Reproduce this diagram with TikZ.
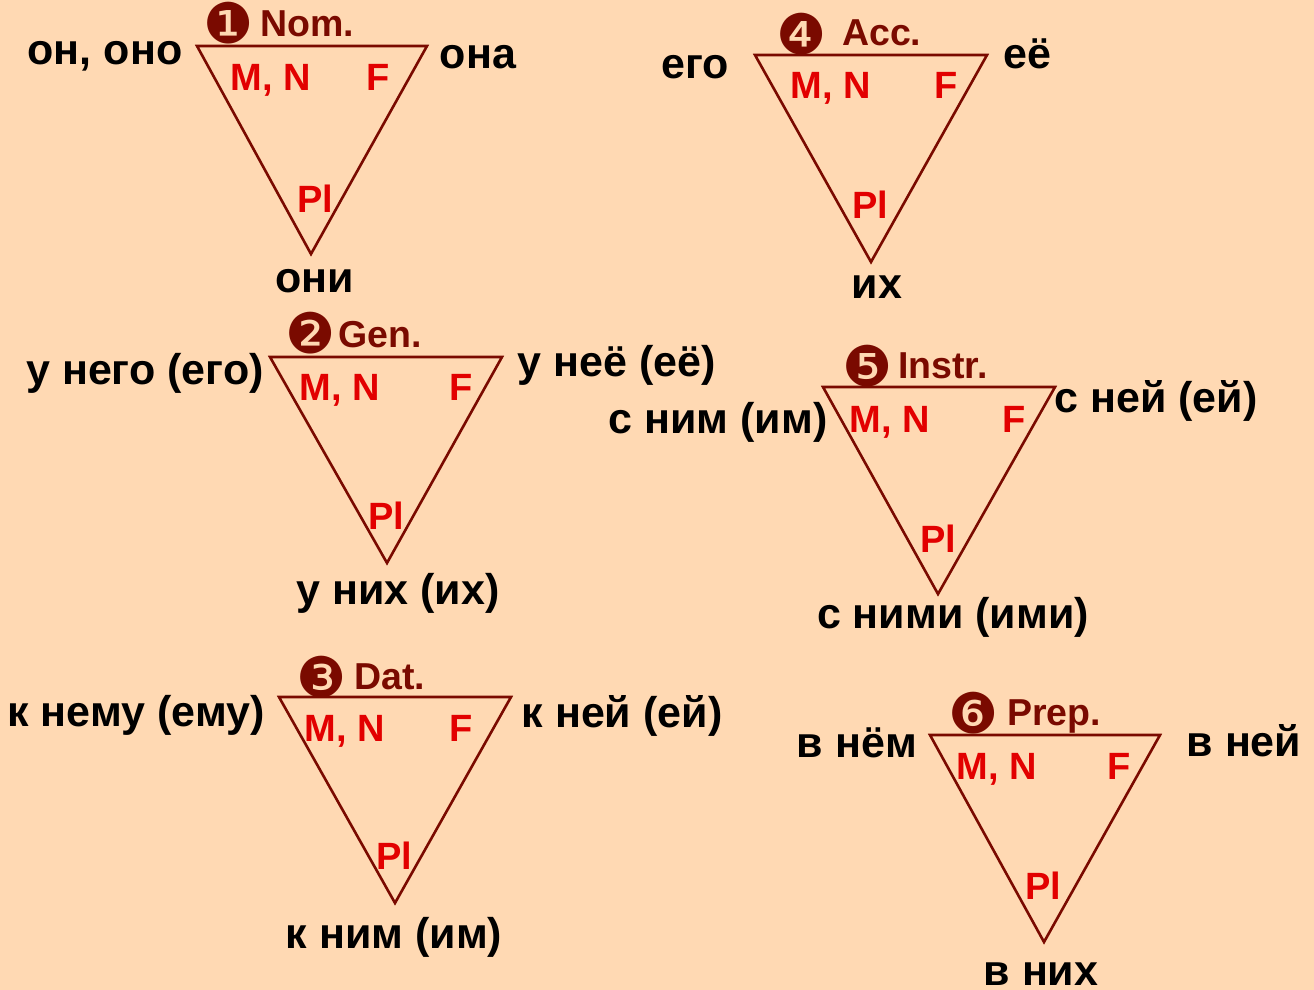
\documentclass[tikz,border=0pt]{standalone}
\usepackage{fontspec}
\setmainfont{Liberation Sans}
\newfontfamily\dingfont{DejaVu Sans}
\definecolor{bgpeach}{RGB}{255,217,179}
\definecolor{darkred}{RGB}{122,10,0}
\definecolor{labred}{RGB}{226,0,0}
\begin{document}
\begin{tikzpicture}[x=1pt,y=-1pt,
  blk/.style={font=\fontsize{43}{50}\selectfont\bfseries, text=black, inner sep=0pt, anchor=base},
  lbl/.style={font=\fontsize{38}{44}\selectfont\bfseries, text=labred, inner sep=0pt, anchor=base},
  ttl/.style={font=\fontsize{37.5}{44}\selectfont\bfseries, text=darkred, inner sep=0pt, anchor=base west},
  num/.style={font=\dingfont\fontsize{56}{60}\selectfont, text=darkred, inner sep=0pt, anchor=center},
  tri/.style={draw=darkred, line width=2.6pt, line join=miter}]
\fill[bgpeach] (0,0) rectangle (1314,990);
\useasboundingbox (0,0) rectangle (1314,990);
\newcommand{\MN}{{\color{labred}M}, {\color{labred}N}}
% 1 Nom
\draw[tri] (197,46) -- (427,46) -- (311,254) -- cycle;
\node[num] (n1) at (229,23) {❶};
\node[ttl] (t1) at (260,37) {Nom.};
\node[lbl] (mn1) at (271,90) {\MN};
\node[lbl] (f1) at (378,90) {F};
\node[lbl] (p1) at (315,212) {Pl};
\node[blk] (a1) at (105,65) {он, оно};
\node[blk] (b1) at (478,69) {она};
\node[blk] (c1) at (315,292) {они};
% 2 Gen
\draw[tri] (270,357) -- (502,357) -- (387,563) -- cycle;
\node[num] (n2) at (311,333) {❷};
\node[ttl] (t2) at (338,347) {Gen.};
\node[lbl] (mn2) at (340,400) {\MN};
\node[lbl] (f2) at (461,400) {F};
\node[lbl] (p2) at (386,529) {Pl};
\node[blk] (a2) at (145,384) {у него (его)};
\node[blk] (b2) at (617,376) {у неё (её)};
\node[blk] (c2) at (398,604) {у них (их)};
% 3 Dat
\draw[tri] (279,697) -- (511,697) -- (395,903) -- cycle;
\node[num] (n3) at (322,677) {❸};
\node[ttl] (t3) at (354,689) {Dat.};
\node[lbl] (mn3) at (345,741) {\MN};
\node[lbl] (f3) at (461,741) {F};
\node[lbl] (p3) at (394,869) {Pl};
\node[blk] (a3) at (136,726) {к нему (ему)};
\node[blk] (b3) at (622,727) {к ней (ей)};
\node[blk] (c3) at (394,948) {к ним (им)};
% 4 Acc
\draw[tri] (755,55) -- (987,55) -- (871,262) -- cycle;
\node[num] (n4) at (802,34) {❹};
\node[ttl] (t4) at (842,46) {Acc.};
\node[lbl] (mn4) at (831,99) {\MN};
\node[lbl] (f4) at (946,99) {F};
\node[lbl] (p4) at (870,218) {Pl};
\node[blk] (a4) at (695,78) {его};
\node[blk] (b4) at (1027,69) {её};
\node[blk] (c4) at (877,298) {их};
% 5 Instr
\draw[tri] (823,387) -- (1055,387) -- (938,594) -- cycle;
\node[num] (n5) at (868,366) {❺};
\node[ttl] (t5) at (898,378) {Instr.};
\node[lbl] (mn5) at (890,432) {\MN};
\node[lbl] (f5) at (1014,432) {F};
\node[lbl] (p5) at (938,552) {Pl};
\node[blk] (a5) at (718,433) {с ним (им)};
\node[blk] (b5) at (1156,412) {с ней (ей)};
\node[blk] (c5) at (953,628) {с ними (ими)};
% 6 Prep
\draw[tri] (930,735) -- (1160,735) -- (1044,942) -- cycle;
\node[num] (n6) at (974,713) {❻};
\node[ttl] (t6) at (1007,725) {Prep.};
\node[lbl] (mn6) at (997,779) {\MN};
\node[lbl] (f6) at (1119,779) {F};
\node[lbl] (p6) at (1043,899) {Pl};
\node[blk] (a6) at (857,757) {в нём};
\node[blk] (b6) at (1244,756) {в ней};
\node[blk] (c6) at (1041,985) {в них};
\end{tikzpicture}
\end{document}
